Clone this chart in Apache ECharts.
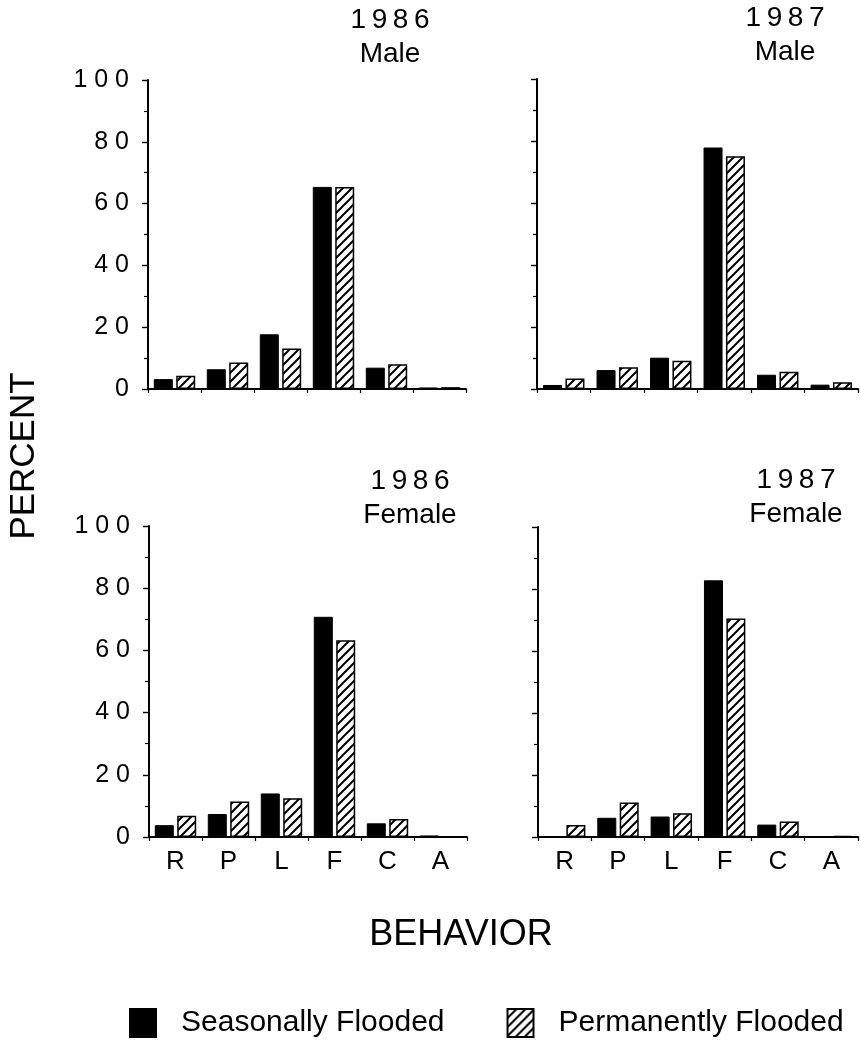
<!DOCTYPE html>
<html>
<head>
<meta charset="utf-8">
<title>Behavior by habitat</title>
<script src="https://cdn.jsdelivr.net/npm/echarts@6/dist/echarts.min.js"></script>
<style>
  html, body { margin: 0; padding: 0; background: #fff; }
  #chart { width: 861px; height: 1046px; }
</style>
</head>
<body>
<div id="chart"></div>
<script>
// behaviour categories
const categories = ['R', 'P', 'L', 'F', 'C', 'A']
const yTicks = [0, 20, 40, 60, 80, 100]

// percent values
const male1986Seasonal = [3.2, 6.4, 17.7, 65.4, 6.9, 0.5]
const male1986Permanent = [4.3, 8.6, 13.1, 65.4, 8.0, 0.6]
const male1987Seasonal = [1.3, 6.1, 10.1, 77.9, 4.6, 1.4]
const male1987Permanent = [3.4, 7.0, 9.1, 75.1, 5.6, 2.2]
const female1986Seasonal = [3.8, 7.4, 14.0, 70.8, 4.4, 0.5]
const female1986Permanent = [6.8, 11.4, 12.5, 63.3, 5.8, 0]
const female1987Seasonal = [0, 6.2, 6.6, 82.8, 4.0, 0]
const female1987Permanent = [3.9, 11.1, 7.7, 70.5, 5.0, 0.4]

const panelTitles = ['1986\nMale', '1987\nMale', '1986\nFemale', '1987\nFemale']

const font = 'Liberation Sans'

// diagonal hatch for permanently flooded
const hatch = document.createElement('canvas')
hatch.width = 9
hatch.height = 9
const ctx = hatch.getContext('2d')
ctx.fillStyle = '#fff'
ctx.fillRect(0, 0, 9, 9)
ctx.strokeStyle = '#000'
ctx.lineWidth = 2
ctx.beginPath()
ctx.moveTo(0, 9); ctx.lineTo(9, 0)
ctx.moveTo(-2, 2); ctx.lineTo(2, -2)
ctx.moveTo(7, 11); ctx.lineTo(11, 7)
ctx.stroke()

const grids = [
  { left: 148, top: 80, width: 318, height: 309 },
  { left: 537, top: 79, width: 321, height: 310 },
  { left: 149, top: 526, width: 318, height: 311 },
  { left: 538, top: 527, width: 320, height: 310 }
]

const spaced = v => String(v).split('').join(' ')

const xAxis = grids.map((g, i) => ({
  type: 'category',
  gridIndex: i,
  data: categories,
  axisLine: { lineStyle: { color: '#000', width: 2 } },
  axisTick: { show: true, length: 4, lineStyle: { color: '#000', width: 1.2 } },
  axisLabel: {
    show: i >= 2,
    color: '#000',
    fontFamily: font,
    fontSize: 26,
    margin: 12
  }
}))

const yAxis = grids.map((g, i) => ({
  type: 'value',
  gridIndex: i,
  min: 0,
  max: 100,
  interval: 20,
  axisLine: { show: true, lineStyle: { color: '#000', width: 2 } },
  axisTick: { show: true, length: 6, lineStyle: { color: '#000', width: 1.4 } },
  minorTick: { show: true, splitNumber: 2, length: 4, lineStyle: { color: '#000', width: 1.2 } },
  splitLine: { show: false },
  axisLabel: {
    show: i % 2 === 0,
    color: '#000',
    fontFamily: font,
    fontSize: 25,
    margin: 19,
    formatter: v => (yTicks.includes(v) ? spaced(v) : '')
  }
}))

const panelData = [
  [male1986Seasonal, male1986Permanent],
  [male1987Seasonal, male1987Permanent],
  [female1986Seasonal, female1986Permanent],
  [female1987Seasonal, female1987Permanent]
]

const series = []
panelData.forEach((pair, i) => {
  series.push({
    name: 'Seasonally Flooded',
    type: 'bar',
    xAxisIndex: i,
    yAxisIndex: i,
    data: pair[0],
    barWidth: 19,
    barGap: '18%',
    itemStyle: { color: '#000', borderColor: '#000', borderWidth: 1 }
  })
  series.push({
    name: 'Permanently Flooded',
    type: 'bar',
    xAxisIndex: i,
    yAxisIndex: i,
    data: pair[1],
    barWidth: 19,
    barGap: '18%',
    itemStyle: { color: { image: hatch, repeat: 'repeat' }, borderColor: '#000', borderWidth: 1.5 }
  })
})

// panel titles
const titlePos = [[390, 37], [785, 35], [410, 498], [796, 497]]
const graphic = panelTitles.map((t, i) => ({
  type: 'text',
  x: titlePos[i][0],
  y: titlePos[i][1],
  style: {
    text: t.replace(/(\d)(?=\d)/g, '$1\u2009'),
    fontFamily: font,
    fontSize: 28,
    lineHeight: 34,
    fill: '#000',
    align: 'center',
    verticalAlign: 'middle'
  }
}))
graphic.push({
  type: 'text',
  x: 24,
  y: 456,
  rotation: Math.PI / 2,
  style: { text: 'PERCENT', fontFamily: font, fontSize: 35, fill: '#000', align: 'center', verticalAlign: 'middle' }
})
graphic.push({
  type: 'text',
  x: 461,
  y: 935,
  style: { text: 'BEHAVIOR', fontFamily: font, fontSize: 36, fill: '#000', align: 'center', verticalAlign: 'middle' }
})

const myChart = echarts.init(document.getElementById('chart'))
myChart.setOption({
  animation: false,
  backgroundColor: '#fff',
  grid: grids,
  xAxis,
  yAxis,
  series,
  graphic,
  legend: {
    left: 129,
    top: 1008,
    padding: 0,
    itemWidth: 26,
    itemHeight: 28,
    itemGap: 62,
    icon: 'rect',
    selectedMode: false,
    data: ['Seasonally Flooded', 'Permanently Flooded'],
    textStyle: { color: '#000', fontFamily: font, fontSize: 30, padding: [0, 0, 0, 20] }
  }
})
</script>
</body>
</html>
